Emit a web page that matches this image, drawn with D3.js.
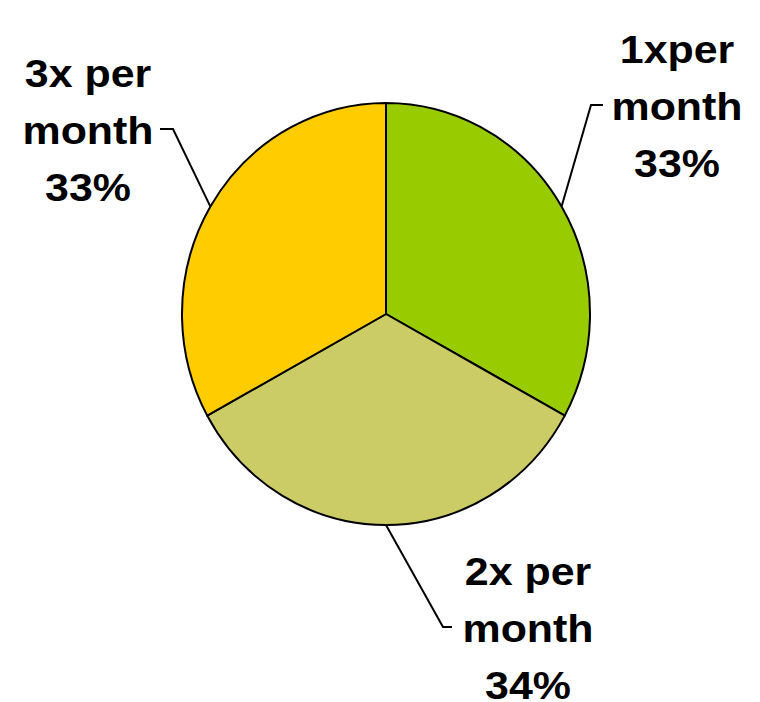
<!DOCTYPE html>
<html>
<head>
<meta charset="utf-8">
<script src="https://cdn.jsdelivr.net/npm/d3@7"></script>
<style>
  body { margin: 0; background: #fff; }
  svg text { font-family: "Liberation Sans", Arial, sans-serif; font-weight: bold; fill: #000; }
</style>
</head>
<body>
<svg id="drawspace" width="760" height="702"></svg>
<script>
// Chart data
const categories = ["1xper month", "2x per month", "3x per month"];
const values = [33, 34, 33];
const percentLabels = ["33%", "34%", "33%"];
const labelLines = [["1xper", "month"], ["2x per", "month"], ["3x per", "month"]];

const colors = ["#99CC00", "#CCCC66", "#FFCC00"];

let drawSpace = d3.select("#drawspace");

// pie is a little taller than wide in the picture
const cx = 386, cy = 314, r = 204, yStretch = 211 / 204;

// where each label block sits (centre x, first baseline) and its leader elbow / end
const labelPos = [
  { x: 677, y: 63, elbow: [591, 105], end: [603, 105] },
  { x: 528, y: 585, elbow: [443, 627], end: [452, 627] },
  { x: 88, y: 87, elbow: [173, 129], end: [160, 129] }
];
const lineH = 57;
// labels in the original are a touch wider than plain Arial
const textStretch = 1.1;

let pie = d3.pie().sort(null).value(d => d);
let arcs = pie(values);
let arcGen = d3.arc().innerRadius(0).outerRadius(r);

let g = drawSpace.append("g")
  .attr("transform", `translate(${cx},${cy}) scale(1,${yStretch})`);

g.selectAll("path")
  .data(arcs)
  .enter()
  .append("path")
  .attr("d", arcGen)
  .attr("fill", (d, i) => colors[i])
  .attr("stroke", "#000")
  .attr("stroke-width", 2)
  .attr("stroke-linejoin", "round")
  .attr("vector-effect", "non-scaling-stroke");

// leader lines from the middle of each slice's rim
arcs.forEach((d, i) => {
  let mid = (d.startAngle + d.endAngle) / 2;
  let px = cx + r * Math.sin(mid);
  let py = cy - r * yStretch * Math.cos(mid);
  let p = labelPos[i];
  drawSpace.append("path")
    .attr("d", d3.line()([[px, py], p.elbow, p.end]))
    .attr("fill", "none")
    .attr("stroke", "#000")
    .attr("stroke-width", 2);

  let t = drawSpace.append("text")
    .attr("text-anchor", "middle")
    .attr("font-size", 39)
    .attr("transform", `translate(${p.x},0) scale(${textStretch},1)`);
  labelLines[i].concat([percentLabels[i]]).forEach((s, k) => {
    t.append("tspan")
      .attr("x", 0)
      .attr("y", p.y + k * lineH)
      .text(s);
  });
});
</script>
</body>
</html>
